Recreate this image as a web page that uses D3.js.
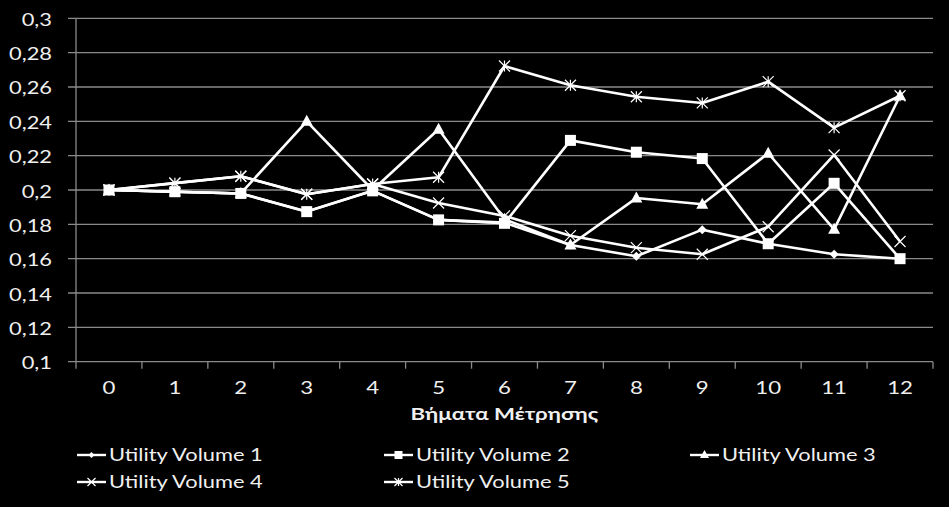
<!DOCTYPE html>
<html><head><meta charset="utf-8">
<script src="https://cdn.jsdelivr.net/npm/d3@7"></script>
<style>
html,body{margin:0;padding:0;background:#000;}svg{display:block;}
text.st{transform-box:fill-box;}
text.sl{transform:scaleX(1.25);transform-origin:left center;}
text.sc{transform:scaleX(1.27);transform-origin:center center;}
text.sr{transform:scaleX(1.25);transform-origin:right center;}
</style>
</head><body>
<svg id="chart" width="949" height="507"></svg>
<script>
const categories = [0,1,2,3,4,5,6,7,8,9,10,11,12];
const seriesNames = ["Utility Volume 1","Utility Volume 2","Utility Volume 3","Utility Volume 4","Utility Volume 5"];
const vol1 = [0.2,0.199,0.198,0.1875,0.1995,0.1826,0.181,0.168,0.1614,0.1769,0.1687,0.1626,0.160];
const vol2 = [0.2,0.199,0.198,0.1874,0.1995,0.1826,0.1806,0.2289,0.222,0.2183,0.1687,0.2039,0.160];
const vol3 = [0.2,0.199,0.198,0.240,0.2,0.2354,0.183,0.168,0.1953,0.1917,0.2214,0.1771,0.2549];
const vol4 = [0.2,0.204,0.208,0.1975,0.2035,0.1924,0.1849,0.1734,0.1664,0.1626,0.1786,0.2204,0.170];
const vol5 = [0.2,0.204,0.208,0.1975,0.2035,0.2074,0.2722,0.261,0.2543,0.2507,0.2631,0.2363,0.2549];
const yTicks = [0.1,0.12,0.14,0.16,0.18,0.2,0.22,0.24,0.26,0.28,0.3];
const xTitle = "Βήματα Μέτρησης";
const symbols = ["diamond","square","triangle","x","star"];

const series = [vol1,vol2,vol3,vol4,vol5];
const svg = d3.select("#chart");
const L = 76, R = 933, T = 18.3, B = 361.7;
const x = d3.scaleBand().domain(categories).range([L,R]);
const y = d3.scaleLinear().domain([0.1,0.3]).range([B,T]);
const font = "Lato, 'Open Sans', sans-serif";
const textColor = "#f0f0f0";
const gridColor = "#8a8a8a";

// gridlines
svg.append("g").selectAll("line").data(yTicks).join("line")
  .attr("x1", L-8).attr("x2", R).attr("y1", d=>y(d)).attr("y2", d=>y(d))
  .attr("stroke", gridColor).attr("stroke-width", 1.3);

// y axis
const yAxis = d3.axisLeft(y).tickValues(yTicks).tickSize(0).tickPadding(24)
  .tickFormat(d => d3.format("~g")(d).replace(".", ","));
const gy = svg.append("g").attr("transform", `translate(${L},0)`).call(yAxis);
gy.select(".domain").remove();
gy.selectAll("text").attr("class","st sr").attr("fill", textColor).attr("font-family", font).attr("font-size", 17.5).attr("dy","0.4em");
svg.append("line").attr("x1", L).attr("x2", L).attr("y1", T).attr("y2", B+7)
  .attr("stroke", gridColor).attr("stroke-width", 1.3);

// x axis
const xAxis = d3.axisBottom(x).tickSize(0).tickPadding(20);
const gx = svg.append("g").attr("transform", `translate(0,${B})`).call(xAxis);
gx.select(".domain").remove();
gx.selectAll("text").attr("class","st sc").attr("fill", textColor).attr("font-family", font).attr("font-size", 17.5);
// boundary ticks
const bounds = categories.map(c => x(c)).concat([R]);
svg.append("g").selectAll("line").data(bounds.slice(1)).join("line")
  .attr("x1", d=>d).attr("x2", d=>d).attr("y1", B).attr("y2", B+7)
  .attr("stroke", gridColor).attr("stroke-width", 1.3);

svg.append("text").attr("class","st sc").attr("x", (L+R)/2).attr("y", 420).attr("text-anchor","middle")
  .attr("fill", textColor).attr("font-family", font).attr("font-weight","bold").attr("font-size", 17.5)
  .text(xTitle);

function drawMarker(g, type, cx, cy, s) {
  if (type === "diamond") {
    g.append("path").attr("d", `M${cx},${cy-s}L${cx+s},${cy}L${cx},${cy+s}L${cx-s},${cy}Z`).attr("fill","#fff");
  } else if (type === "square") {
    g.append("rect").attr("x", cx-s).attr("y", cy-s).attr("width", 2*s).attr("height", 2*s).attr("fill","#fff");
  } else if (type === "triangle") {
    g.append("path").attr("d", `M${cx},${cy-s-1}L${cx+s+0.5},${cy+s-1}L${cx-s-0.5},${cy+s-1}Z`).attr("fill","#fff");
  } else if (type === "x") {
    g.append("path").attr("d", `M${cx-s},${cy-s}L${cx+s},${cy+s}M${cx-s},${cy+s}L${cx+s},${cy-s}`)
      .attr("stroke","#fff").attr("stroke-width",1.2);
  } else if (type === "star") {
    g.append("path").attr("d", `M${cx-s},${cy-s}L${cx+s},${cy+s}M${cx-s},${cy+s}L${cx+s},${cy-s}M${cx},${cy-s}L${cx},${cy+s}`)
      .attr("stroke","#fff").attr("stroke-width",1.2);
  }
}
const msize = {diamond:4.5, square:5.5, triangle:5.5, x:5.5, star:5.5};

const line = d3.line().x((d,i) => x(categories[i]) + x.bandwidth()/2).y(d => y(d));
series.forEach((vals, si) => {
  const g = svg.append("g");
  g.append("path").attr("d", line(vals)).attr("fill","none").attr("stroke","#fff").attr("stroke-width",2.6)
    .attr("stroke-linejoin","round");
  vals.forEach((v,i) => drawMarker(g, symbols[si], x(categories[i]) + x.bandwidth()/2, y(v), msize[symbols[si]]));
});

// legend
const legendPos = [[77,455],[384,455],[690,455],[77,482],[384,482]];
seriesNames.forEach((name, i) => {
  const [lx, ly] = legendPos[i];
  const g = svg.append("g");
  g.append("line").attr("x1", lx).attr("x2", lx+29).attr("y1", ly).attr("y2", ly)
    .attr("stroke","#fff").attr("stroke-width",2.4);
  drawMarker(g, symbols[i], lx+14.5, ly, msize[symbols[i]]-1.5);
  g.append("text").attr("class","st sl").attr("x", lx+32).attr("y", ly+6).attr("fill", textColor)
    .attr("font-family", font).attr("font-size", 17.5).text(name);
});
</script>
</body></html>
